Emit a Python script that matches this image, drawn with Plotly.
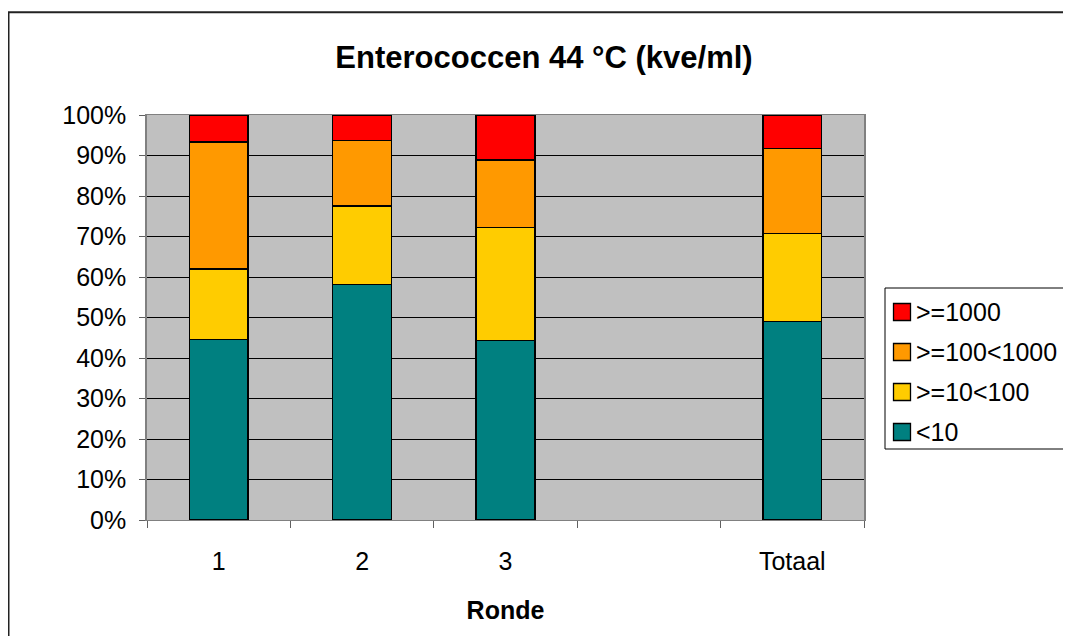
import plotly.graph_objects as go

categories = ["1", "2", "3", " ", "Totaal"]
lt10 = [44.6, 58.1, 44.3, None, 49.1]
ge10_lt100 = [17.4, 19.4, 28.0, None, 21.7]
ge100_lt1000 = [31.3, 16.2, 16.6, None, 20.9]
ge1000 = [6.7, 6.3, 11.1, None, 8.3]

series_names = ["<10", ">=10<100", ">=100<1000", ">=1000"]
series_values = [lt10, ge10_lt100, ge100_lt1000, ge1000]
series_colors = ["#008080", "#FFCC00", "#FF9900", "#FF0000"]

OFF = 8  # page body margin offset
W, H = 1071 - 2 * OFF, 644 - 2 * OFF
# target screen positions of plot area
SL, SR, ST, SB = 147, 864, 115, 520
ML, MT = SL - OFF, ST - OFF
MR, MB = W - (SR - OFF), H - (SB - OFF)
PW, PH = SR - SL, SB - ST

fig = go.Figure()
for name, vals, col in zip(series_names, series_values, series_colors):
    fig.add_trace(go.Bar(
        x=categories, y=vals, name=name,
        marker=dict(color=col, line=dict(color="black", width=1.3)),
    ))

def px_x(p):
    return (p - SL) / PW

def px_y(p):
    return (SB - p) / PH

FONT = "Liberation Sans, Arial, sans-serif"

shapes = [
    # outer chart border
    dict(type="rect", xref="paper", yref="paper",
         x0=px_x(8.5), x1=px_x(1100), y0=px_y(700), y1=px_y(12.3),
         line=dict(color="#222222", width=2), fillcolor="rgba(0,0,0,0)", layer="below"),
    # legend box
    dict(type="rect", xref="paper", yref="paper",
         x0=px_x(885), x1=px_x(1100), y0=px_y(449), y1=px_y(288),
         line=dict(color="black", width=1), fillcolor="white"),
]
annotations = []
legend_top_center = 312
legend_step = 40
for i, (name, col) in enumerate(reversed(list(zip(series_names, series_colors)))):
    cy = legend_top_center + i * legend_step
    shapes.append(dict(type="rect", xref="paper", yref="paper",
                       x0=px_x(893.5), x1=px_x(910.5),
                       y0=px_y(cy + 8.5), y1=px_y(cy - 8.5),
                       line=dict(color="black", width=1.3), fillcolor=col))
    annotations.append(dict(text=name, xref="paper", yref="paper",
                            x=px_x(914), y=px_y(cy), xanchor="left", yanchor="middle",
                            showarrow=False, font=dict(size=25, family=FONT, color="black")))

fig.update_layout(
    width=W, height=H,
    margin=dict(l=ML, r=MR, t=MT, b=MB),
    barmode="stack", bargap=0.59,
    paper_bgcolor="white", plot_bgcolor="#C0C0C0",
    font=dict(family=FONT, size=25, color="black"),
    title=dict(text="<b>Enterococcen 44 °C (kve/ml)</b>", xref="paper", x=px_x(544),
               xanchor="center", y=1 - (57 - OFF) / H, yanchor="middle",
               font=dict(size=31)),
    showlegend=False,
    xaxis=dict(type="category", categoryorder="array", categoryarray=categories,
               range=[-0.5, 4.5], showgrid=False, ticks="outside", tickson="boundaries",
               ticklen=7, tickcolor="#606060", showline=True, linecolor="#808080",
               linewidth=1, mirror=True, zeroline=False, ticklabelstandoff=19,
               title=dict(text="<b>Ronde</b>", standoff=27, font=dict(size=25))),
    yaxis=dict(range=[0, 100], tickvals=list(range(0, 101, 10)),
               ticktext=[f"{v}%" for v in range(0, 101, 10)],
               showgrid=True, gridcolor="black", gridwidth=1,
               ticks="outside", ticklen=6, tickcolor="#606060",
               showline=True, linecolor="#808080", linewidth=1.5, mirror=True,
               zeroline=False, ticklabelstandoff=8),
    shapes=shapes,
    annotations=annotations,
)

fig.write_html("out.html")
